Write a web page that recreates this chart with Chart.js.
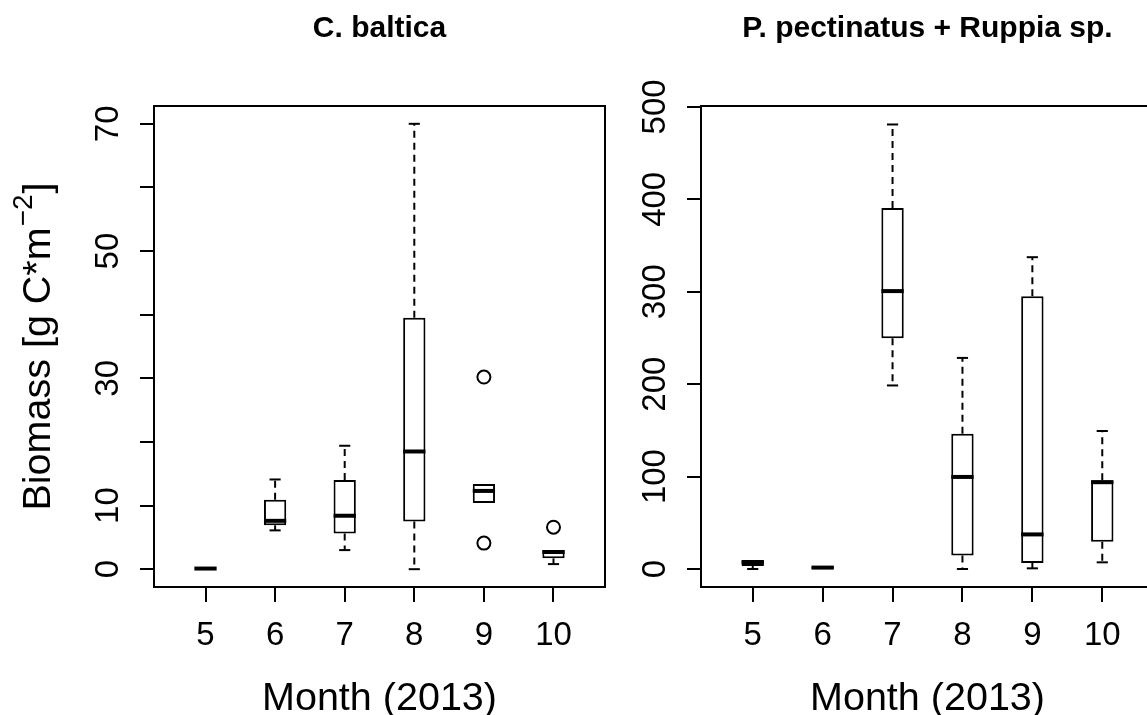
<!DOCTYPE html>
<html>
<head>
<meta charset="utf-8">
<script src="https://cdn.jsdelivr.net/npm/chart.js@4.4.1/dist/chart.umd.min.js"></script>
<style>
  html, body { margin: 0; padding: 0; background: #fff; overflow: hidden; width: 1147px; height: 715px; }
  canvas { position: absolute; top: 0; }
  #left { left: 0; }
  #right { left: 560px; }
</style>
</head>
<body>
<canvas id="left" width="640" height="715"></canvas>
<canvas id="right" width="620" height="715"></canvas>
<script>
// months on the x axis
const months = ["5", "6", "7", "8", "9", "10"];

// C. baltica (left panel)
const balLow = [0, 6.1, 3.0, 0, 10.4, 0.8];
const balQ1 = [0, 6.9, 5.6, 7.5, 10.4, 1.7];
const balMed = [0.1, 7.6, 8.4, 18.5, 12.3, 2.7];
const balQ3 = [0.2, 10.9, 14.0, 39.5, 13.4, 3.0];
const balHigh = [0.2, 14.1, 19.4, 70.0, 13.4, 3.0];
const balOutPos = [5, 5, 6];
const balOutVal = [30.2, 4.1, 6.6];
const balTicks = [0, 10, 20, 30, 40, 50, 60, 70];
const balLabels = [0, 10, 30, 50, 70];

// P. pectinatus + Ruppia sp. (right panel)
const potLow = [0, 0.5, 198.6, 0, 0.7, 7.2];
const potQ1 = [3.2, 0.5, 249.6, 14.7, 6.5, 29.5];
const potMed = [7.2, 1.5, 300.7, 99.6, 37.4, 93.9];
const potQ3 = [9.7, 2.5, 390.6, 146.4, 295, 96];
const potHigh = [9.7, 2.5, 481, 228.4, 337.4, 149.3];
const potTicks = [0, 100, 200, 300, 400, 500];
const potLabels = [0, 100, 200, 300, 400, 500];

const FONT = '"Liberation Sans", Arial, sans-serif';

function line(ctx, x1, y1, x2, y2) {
  ctx.beginPath();
  ctx.moveTo(x1, y1);
  ctx.lineTo(x2, y2);
  ctx.stroke();
}

// whiskers, staples, medians, frame and all the text
const boxExtras = {
  id: "boxExtras",
  afterDatasetsDraw(chart, args, o) {
    const ctx = chart.ctx;
    const y = chart.scales.y;
    const bars = chart.getDatasetMeta(0).data;
    ctx.save();
    ctx.strokeStyle = "#000";
    bars.forEach((bar, i) => {
      const cx = bar.x, hw = bar.width / 2, sw = hw / 2;
      const pLo = y.getPixelForValue(o.low[i]);
      const pQ1 = y.getPixelForValue(o.q1[i]);
      const pMed = y.getPixelForValue(o.med[i]);
      const pQ3 = y.getPixelForValue(o.q3[i]);
      const pHi = y.getPixelForValue(o.high[i]);
      ctx.lineWidth = 2;
      ctx.setLineDash([7, 5]);
      if (o.high[i] > o.q3[i]) line(ctx, cx, pQ3, cx, pHi);
      if (o.low[i] < o.q1[i]) line(ctx, cx, pQ1, cx, pLo);
      ctx.setLineDash([]);
      if (o.high[i] > o.q3[i]) line(ctx, cx - sw, pHi, cx + sw, pHi);
      if (o.low[i] < o.q1[i]) line(ctx, cx - sw, pLo, cx + sw, pLo);
      ctx.lineWidth = 4;
      line(ctx, cx - hw, pMed, cx + hw, pMed);
    });
    const a = chart.chartArea;
    ctx.lineWidth = 2;
    ctx.strokeRect(a.left, a.top, a.right - a.left, a.bottom - a.top);
    ctx.restore();
  },
  afterDraw(chart, args, o) {
    const ctx = chart.ctx;
    const a = chart.chartArea;
    const x = chart.scales.x, y = chart.scales.y;
    const mid = (a.left + a.right) / 2;
    ctx.save();
    ctx.fillStyle = "#000";
    // title
    ctx.font = "bold 30px " + FONT;
    ctx.textAlign = "center";
    ctx.textBaseline = "alphabetic";
    ctx.fillText(o.title, mid, 37);
    // x tick labels
    ctx.font = "33px " + FONT;
    months.forEach((m, i) => ctx.fillText(m, x.getPixelForValue(i + 1), 645));
    // x title
    ctx.font = "39.5px " + FONT;
    ctx.fillText("Month (2013)", mid, 710);
    // y tick labels, rotated
    ctx.font = "33px " + FONT;
    o.yLabels.forEach(v => {
      ctx.save();
      ctx.translate(a.left - 36, y.getPixelForValue(v));
      ctx.rotate(-Math.PI / 2);
      ctx.fillText(String(v), 0, 0);
      ctx.restore();
    });
    // y title with superscript
    if (o.yTitle) {
      const mainTxt = "Biomass [g C*m", supTxt = "\u22122", endTxt = "]";
      const big = "39.5px " + FONT, small = "28px " + FONT;
      ctx.font = big;
      const w1 = ctx.measureText(mainTxt).width, w3 = ctx.measureText(endTxt).width;
      ctx.font = small;
      const w2 = ctx.measureText(supTxt).width;
      const total = w1 + w2 + w3 + 2;
      ctx.save();
      ctx.translate(a.left - 104, (a.top + a.bottom) / 2);
      ctx.rotate(-Math.PI / 2);
      ctx.textAlign = "left";
      let px = -total / 2;
      ctx.font = big;
      ctx.fillText(mainTxt, px, 0);
      px += w1 + 1;
      ctx.font = small;
      ctx.fillText(supTxt, px, -18);
      px += w2 + 1;
      ctx.font = big;
      ctx.fillText(endTxt, px, 0);
      ctx.restore();
    }
    ctx.restore();
  }
};

function makeChart(id, cfg) {
  const boxes = months.map((m, i) => ({ x: i + 1, y: [cfg.q1[i], cfg.q3[i]] }));
  const outs = (cfg.outPos || []).map((p, i) => ({ x: p, y: cfg.outVal[i] }));
  return new Chart(document.getElementById(id), {
    type: "bar",
    data: {
      datasets: [
        {
          data: boxes,
          backgroundColor: "#fff",
          borderColor: "#000",
          borderWidth: 2,
          borderSkipped: false,
          barPercentage: 0.32,
          categoryPercentage: 1
        },
        {
          type: "scatter",
          data: outs,
          pointStyle: "circle",
          pointRadius: 6.5,
          borderColor: "#000",
          borderWidth: 2,
          backgroundColor: "rgba(0,0,0,0)"
        }
      ]
    },
    options: {
      responsive: false,
      animation: false,
      devicePixelRatio: 1,
      layout: { padding: { left: 0, top: 106, right: cfg.padRight, bottom: 0 } },
      plugins: {
        legend: { display: false },
        tooltip: { enabled: false },
        boxExtras: {
          title: cfg.title, low: cfg.low, q1: cfg.q1, med: cfg.med, q3: cfg.q3, high: cfg.high,
          yLabels: cfg.yLabels, yTitle: cfg.yTitle
        }
      },
      scales: {
        x: {
          type: "linear",
          offset: false,
          min: 0.26,
          max: 6.74,
          afterBuildTicks: s => { s.ticks = months.map((m, i) => ({ value: i + 1 })); },
          afterFit: s => { s.height = 128; },
          ticks: { display: false },
          border: { display: false },
          grid: { offset: false, drawOnChartArea: false, drawTicks: true, tickLength: 15, color: "#000", lineWidth: 2 }
        },
        y: {
          min: cfg.yMin,
          max: cfg.yMax,
          afterBuildTicks: s => { s.ticks = cfg.yTicks.map(v => ({ value: v })); },
          afterFit: s => { s.width = cfg.yWidth; },
          ticks: { display: false },
          border: { display: false },
          grid: { drawOnChartArea: false, drawTicks: true, tickLength: 14, color: "#000", lineWidth: 2 }
        }
      }
    },
    plugins: [boxExtras]
  });
}

makeChart("left", {
  title: "C. baltica",
  low: balLow, q1: balQ1, med: balMed, q3: balQ3, high: balHigh,
  outPos: balOutPos, outVal: balOutVal,
  yMin: -2.8, yMax: 72.8, yTicks: balTicks, yLabels: balLabels,
  yTitle: true, yWidth: 154, padRight: 35
});

makeChart("right", {
  title: "P. pectinatus + Ruppia sp.",
  low: potLow, q1: potQ1, med: potMed, q3: potQ3, high: potHigh,
  yMin: -19.5, yMax: 501, yTicks: potTicks, yLabels: potLabels,
  yTitle: false, yWidth: 141, padRight: 26
});
</script>
</body>
</html>
